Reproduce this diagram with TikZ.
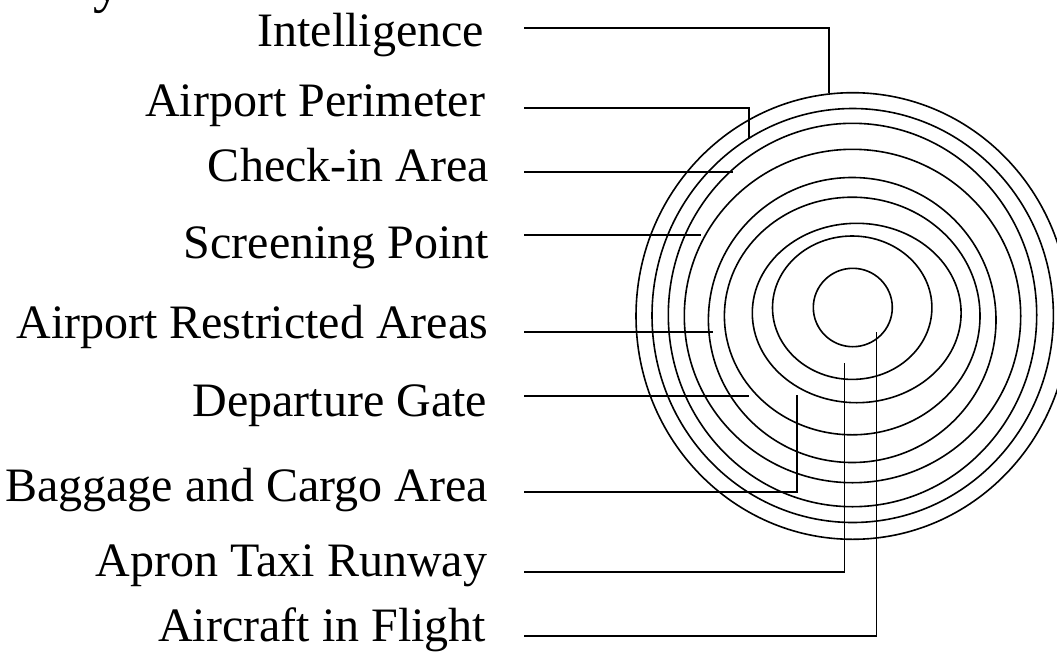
\documentclass[tikz,border=0pt]{standalone}
\usepackage{fontspec}
\setmainfont{Liberation Serif}
\begin{document}
\begin{tikzpicture}[x=1pt,y=-1pt,
  line width=1.6pt,
  lab/.style={anchor=base east, font=\fontsize{48}{52}\selectfont, inner sep=0pt},
  ring/.style={draw, line width=1.6pt},
  conn/.style={draw, line width=1.6pt}]
\useasboundingbox (0,0) rectangle (1057,656);
% title fragment
\node[anchor=base west, font=\fontsize{56}{60}\selectfont, inner sep=0pt] (title) at (93,1) {y};
% rings
\draw[ring] (852.8,307.5) ellipse [x radius=39.5, y radius=39.2];
\draw[ring] (852.2,307.7) ellipse [x radius=79.7, y radius=71.7];
\draw[ring] (856.7,313) ellipse [x radius=104.4, y radius=89.7];
\draw[ring] (852.2,316) ellipse [x radius=127.8, y radius=118.8];
\draw[ring] (852.2,320) ellipse [x radius=143.8, y radius=142.5];
\draw[ring] (852.5,316) ellipse [x radius=168.2, y radius=166.7];
\draw[ring] (852.5,315) ellipse [x radius=184.2, y radius=191.7];
\draw[ring] (852.7,315.5) ellipse [x radius=200.7, y radius=207];
\draw[ring] (852.7,316) ellipse [x radius=216.7, y radius=223.3];
% labels
\node[lab] (l1) at (485,46) {Intelligence};
\node[lab] (l2) at (486,116) {Airport Perimeter};
\node[lab] (l3) at (490,181) {Check-in Area};
\node[lab] (l4) at (490,258) {Screening Point};
\node[lab] (l5) at (489,338) {Airport Restricted Areas};
\node[lab] (l6) at (488,416) {Departure Gate};
\node[lab] (l7) at (489,501) {Baggage and Cargo Area};
\node[lab] (l8) at (488,576) {Apron Taxi Runway};
\node[lab] (l9) at (487,641) {Aircraft in Flight};
% connector start points
\coordinate (s1) at (524.3,27.7);
\coordinate (s2) at (524.3,107.7);
\coordinate (s3) at (524.3,171.7);
\coordinate (s4) at (524.3,235);
\coordinate (s5) at (524.3,331.7);
\coordinate (s6) at (524.3,395.7);
\coordinate (s7) at (524.3,491.7);
\coordinate (s8) at (524.3,571.7);
\coordinate (s9) at (524.3,636);
% connector end points
\coordinate (e1) at (828.7,92.5);
\coordinate (e2) at (748.7,139.3);
\coordinate (e3) at (732.7,171.7);
\coordinate (e4) at (700.7,235);
\coordinate (e5) at (712.7,331.7);
\coordinate (e6) at (749.3,395.7);
\coordinate (e7) at (796.7,395);
\coordinate (e8) at (844.3,363.3);
\coordinate (e9) at (876.5,331.7);
\draw[conn] (s1) -| (e1);
\draw[conn] (s2) -| (e2);
\draw[conn] (s3) -- (e3);
\draw[conn] (s4) -- (e4);
\draw[conn] (s5) -- (e5);
\draw[conn] (s6) -- (e6);
\draw[conn] (s7) -| (e7);
\draw[conn] (s8) -| (e8);
\draw[conn] (s9) -| (e9);
\end{tikzpicture}
\end{document}
